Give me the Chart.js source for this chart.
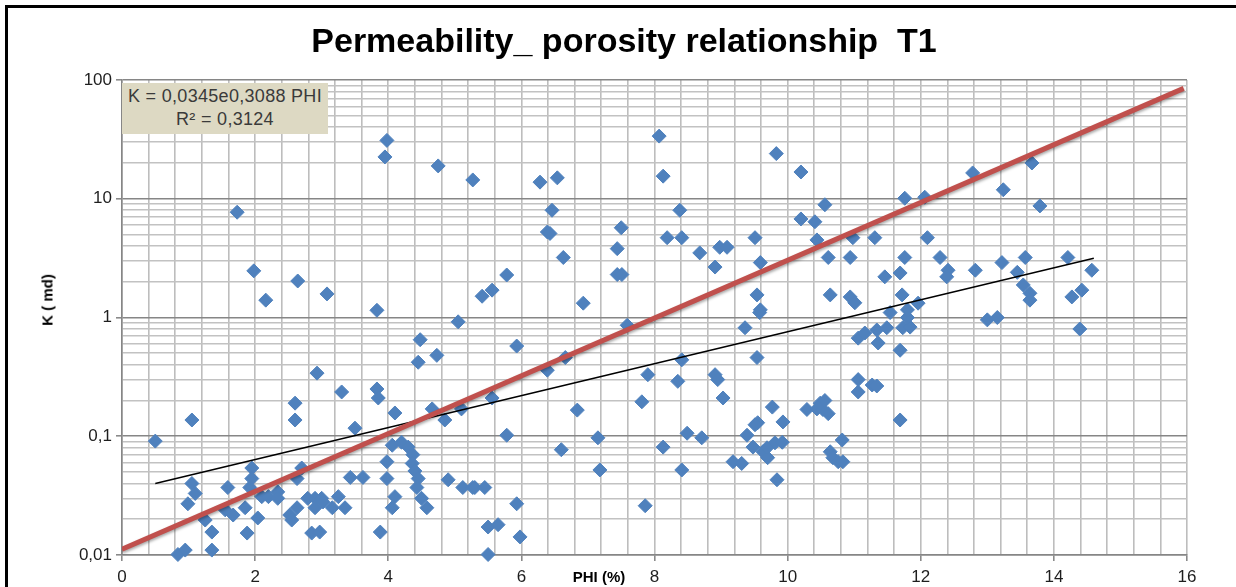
<!DOCTYPE html>
<html>
<head>
<meta charset="utf-8">
<title>Permeability porosity T1</title>
<script src="https://cdn.jsdelivr.net/npm/chart.js@4.4.0/dist/chart.umd.min.js"></script>
<style>
	html, body { margin: 0; padding: 0; background: #fff; overflow: hidden; }
	#wrap { position: relative; width: 1236px; height: 587px; overflow: hidden; font-family: "Liberation Sans", Arial, sans-serif; }
	#frame-top { position: absolute; left: 5px; top: 5px; width: 1231px; height: 3px; background: #000; }
	#frame-left { position: absolute; left: 5px; top: 5px; width: 3px; height: 582px; background: #000; }
	#chart-title { position: absolute; left: 6px; top: 23px; width: 1236px; text-align: center; font-weight: bold; font-size: 34px; line-height: 34px; color: #000; white-space: nowrap; }
	#y-title { position: absolute; left: 47px; top: 300px; transform: translate(-50%, -50%) rotate(-90deg); font-weight: bold; font-size: 15px; color: #000; white-space: nowrap; }
	#x-title { position: absolute; left: 599px; top: 576px; transform: translate(-50%, -50%); font-weight: bold; font-size: 15px; color: #000; white-space: nowrap; }
	#equation { position: absolute; left: 122px; top: 83px; width: 206px; height: 51px; background: #ddd9c3; color: #3a3a3a; font-size: 18px; line-height: 23px; text-align: center; padding-top: 2px; box-sizing: border-box; letter-spacing: 0.3px; }
	canvas { position: absolute; left: 0; top: 0; }
</style>
</head>
<body>
<div id="wrap">
	<canvas id="perm-chart" width="1236" height="587"></canvas>
	<div id="frame-top"></div>
	<div id="frame-left"></div>
	<div id="chart-title">Permeability_ porosity relationship&nbsp; T1</div>
	<div id="y-title">K ( md)</div>
	<div id="x-title">PHI (%)</div>
	<div id="equation">K = 0,0345e0,3088 PHI<br>R² = 0,3124</div>
</div>
<script>
	// porosity (%) and permeability (md)
	var phi = [
		0.50, 1.05, 1.05, 1.10, 0.99, 0.84, 0.95, 1.25, 1.35, 1.35,
		1.59, 1.55, 1.67, 1.88, 1.85, 1.95, 1.95, 1.92, 2.04, 2.10,
		2.20, 2.34, 2.34, 2.52, 2.55, 2.63, 2.70, 2.63, 2.60, 2.60,
		2.79, 2.90, 3.00, 2.90, 3.02, 3.16, 3.25, 3.35, 2.85, 2.97,
		2.93, 3.30, 3.50, 3.43, 3.62, 3.83, 3.85, 3.88, 3.98, 3.98,
		4.06, 4.10, 4.06, 4.10, 4.20, 4.30, 4.37, 4.36, 4.40, 4.45,
		4.43, 4.50, 4.58, 4.45, 4.48, 4.73, 4.66, 4.85, 4.90, 5.12,
		5.27, 5.05, 5.10, 3.83, 1.73, 1.98, 2.16, 2.64, 3.08, 3.98,
		3.95, 4.75,
		5.30, 5.45, 5.50, 5.65, 5.50, 5.93, 5.98, 5.93, 5.78, 5.56,
		6.39, 6.66, 6.84, 6.60, 7.15, 7.18, 7.59, 7.81, 7.90, 7.86,
		8.13, 8.35, 8.41, 8.49, 8.41, 8.71, 8.91, 8.95, 9.03, 9.18,
		9.31, 9.39, 9.48, 9.55, 9.51, 9.77, 9.93, 9.84, 9.63, 9.70,
		9.69, 9.81, 9.92, 9.36, 9.54, 9.58, 10.29, 10.44, 10.53, 10.61,
		10.49, 10.64, 10.68, 10.56,
		10.82, 10.76, 10.83, 11.06, 11.06, 11.27, 11.34, 11.69, 11.06, 11.16,
		11.34, 11.49, 11.36, 11.69, 11.73, 11.84, 13.00, 13.15, 14.39, 11.54,
		11.80,
		10.56, 11.76, 12.06, 12.78, 13.24, 13.67, 13.79, 10.98, 11.31, 10.61,
		10.94, 11.76, 12.10, 12.29, 12.41, 12.39, 11.46, 11.69, 12.82, 13.22,
		13.57, 13.45, 13.54, 13.64, 13.64, 14.21, 14.57, 14.27, 14.42, 10.64,
		10.94, 11.01, 11.72, 11.80, 11.96,
		5.27, 6.28, 6.54, 8.07, 8.13, 9.83, 10.20, 6.46, 6.39, 6.43,
		6.63, 5.78, 5.41, 5.56, 6.93, 7.50, 7.44, 7.44, 7.51, 8.38,
		8.19, 8.41, 8.68, 8.91, 8.98, 9.09, 9.51, 9.59, 9.54, 9.59,
		10.20, 10.41, 10.44
	];
	var kmd = [
		0.091, 0.137, 0.040, 0.033, 0.027, 0.0101, 0.011, 0.0197, 0.0156, 0.011,
		0.037, 0.024, 0.0217, 0.0153, 0.025, 0.054, 0.044, 0.037, 0.0205, 0.031,
		0.031, 0.034, 0.030, 0.0217, 0.0197, 0.025, 0.054, 0.044, 0.19, 0.137,
		0.030, 0.030, 0.030, 0.025, 0.028, 0.025, 0.031, 0.025, 0.0153, 0.0156,
		0.34, 0.236, 0.117, 0.045, 0.045, 0.25, 0.21, 0.0156, 0.061, 0.044,
		0.084, 0.031, 0.025, 0.157, 0.089, 0.081, 0.070, 0.059, 0.051, 0.044,
		0.037, 0.030, 0.025, 0.42, 0.65, 0.48, 0.17, 0.137, 0.043, 0.037,
		0.037, 0.92, 0.17, 1.15, 7.7, 2.47, 1.4, 2.03, 1.58, 31,
		22.5, 18.9,
		0.037, 0.037, 0.0172, 0.018, 0.0101, 0.027, 0.0142, 0.575, 0.102, 0.21,
		0.36, 0.46, 0.166, 0.077, 0.097, 0.052, 0.86, 0.195, 0.33, 0.026,
		0.081, 0.29, 0.44, 0.106, 0.052, 0.097, 0.33, 0.30, 0.21, 0.061,
		0.059, 0.102, 0.081, 0.13, 0.125, 0.176, 0.132, 0.043, 0.074, 0.066,
		0.080, 0.088, 0.089, 0.82, 0.46, 1.1, 0.168, 0.17, 0.168, 0.155,
		0.19, 0.074, 0.066, 0.20,
		0.093, 0.061, 0.061, 0.30, 0.236, 0.27, 0.265, 0.137, 0.67, 0.74,
		0.785, 0.82, 0.61, 0.53, 0.82, 0.83, 0.955, 1.0, 0.8, 1.1,
		1.0,
		8.9, 10.1, 10.3, 16.5, 11.9, 20, 8.7, 4.7, 4.7, 3.2,
		3.2, 3.2, 4.7, 3.2, 2.5, 2.2, 2.2, 2.37, 2.5, 2.9,
		3.2, 2.4, 1.88, 1.6, 1.4, 3.2, 2.5, 1.49, 1.7, 1.55,
		1.49, 1.33, 1.55, 1.16, 1.32,
		14.4, 13.8, 15, 33.7, 15.5, 24, 16.8, 8.0, 5.25, 5.1,
		3.2, 2.28, 1.51, 1.7, 1.32, 5.7, 3.8, 2.3, 2.3, 8.0,
		4.7, 4.7, 3.5, 2.66, 3.9, 3.9, 4.7, 2.9, 1.55, 1.16,
		6.76, 6.4, 4.5
	];

	// exponential trendline (black) and the red reference line, end points
	var trendPhi = [0.5, 14.6];
	var trendK = [0.04, 3.15];
	var redPhi = [0, 15.95];
	var redK = [0.0112, 85];

	// axis ticks
	var phiTicks = [0, 2, 4, 6, 8, 10, 12, 14, 16];
	var kTicks = [0.01, 0.1, 1, 10, 100];
	var kTickLabels = ['0,01', '0,1', '1', '10', '100'];

	function toPoints(xs, ys){
		return xs.map(function(x, i){ return { x: x, y: ys[i] }; });
	}

	function isNear(v, list){
		for (var i = 0; i < list.length; i++) {
			if (Math.abs(v - list[i]) < 1e-6 * Math.max(1, list[i])) return i;
		}
		return -1;
	}

	// minor grid: every 0.4 on PHI, 1..9 per decade on K
	var phiGrid = [];
	for (var i = 0; i <= 40; i++) {
		phiGrid.push(Number((i * 0.4).toFixed(1)));
	}
	var kGrid = [];
	for (var d = 0; d < kTicks.length - 1; d++) {
		for (var m = 1; m <= 9; m++) {
			kGrid.push(Number((m * kTicks[d]).toPrecision(3)));
		}
	}
	kGrid.push(kTicks[kTicks.length - 1]);

	var lineShadow = {
		id: 'lineShadow',
		beforeDatasetDraw: function(chart, args){
			if (args.index === 0) {
				var c = chart.ctx;
				c.save();
				c.shadowColor = 'rgba(0,0,0,0.35)';
				c.shadowBlur = 3;
				c.shadowOffsetY = 2;
			}
		},
		afterDatasetDraw: function(chart, args){
			if (args.index === 0) chart.ctx.restore();
		}
	};

	var tickFont = { family: '"Liberation Sans", Arial, sans-serif', size: 17 };

	var permChart = new Chart(document.getElementById('perm-chart'), {
		type: 'scatter',
		data: {
			datasets: [
				{
					label: 'red',
					data: toPoints(redPhi, redK),
					showLine: true,
					borderColor: '#c0504d',
					borderWidth: 5,
					pointRadius: 0,
					order: 0
				},
				{
					label: 'trend',
					data: toPoints(trendPhi, trendK),
					showLine: true,
					borderColor: '#000000',
					borderWidth: 1.5,
					pointRadius: 0,
					order: 1
				},
				{
					label: 'T1',
					data: toPoints(phi, kmd),
					pointStyle: 'rectRot',
					pointRadius: 7,
					backgroundColor: '#4f81bd',
					borderColor: '#4f81bd',
					borderWidth: 1,
					clip: false,
					order: 2
				}
			]
		},
		options: {
			responsive: false,
			animation: false,
			devicePixelRatio: 1,
			layout: { padding: { top: 80, right: 49, left: 0, bottom: 0 } },
			plugins: {
				legend: { display: false },
				tooltip: { enabled: false },
				title: { display: false }
			},
			scales: {
				x: {
					type: 'linear',
					min: 0,
					max: 16,
					afterBuildTicks: function(s){
						s.ticks = phiGrid.map(function(v){ return { value: v }; });
					},
					afterFit: function(s){ s.height = 32; },
					ticks: {
						autoSkip: false,
						maxRotation: 0,
						minRotation: 0,
						padding: 6,
						color: '#1e1e1e',
						font: tickFont,
						callback: function(v){
							return isNear(v, phiTicks) >= 0 ? String(phiTicks[isNear(v, phiTicks)]) : '';
						}
					},
					grid: {
						color: '#bdbdbd',
						lineWidth: 1.6,
						tickLength: 6,
						tickColor: function(ctx){
							return ctx.tick && isNear(ctx.tick.value, phiTicks) >= 0 ? '#8a8a8a' : 'rgba(0,0,0,0)';
						}
					},
					border: { color: '#868686', width: 1.6 }
				},
				y: {
					type: 'logarithmic',
					min: 0.01,
					max: 100,
					afterBuildTicks: function(s){
						s.ticks = kGrid.map(function(v){ return { value: v }; });
					},
					afterFit: function(s){ s.width = 122; },
					ticks: {
						autoSkip: false,
						padding: 4,
						color: '#1e1e1e',
						font: tickFont,
						callback: function(v){
							var idx = isNear(v, kTicks);
							return idx >= 0 ? kTickLabels[idx] : '';
						}
					},
					grid: {
						lineWidth: 1.6,
						tickLength: 6,
						color: function(ctx){
							return ctx.tick && isNear(ctx.tick.value, kTicks) >= 0 ? '#868686' : '#c2c2c2';
						},
						tickColor: function(ctx){
							return ctx.tick && isNear(ctx.tick.value, kTicks) >= 0 ? '#8a8a8a' : 'rgba(0,0,0,0)';
						}
					},
					border: { color: '#868686', width: 1.6 }
				}
			}
		},
		plugins: [lineShadow]
	});

	console.log('points', phi.length, kmd.length);
</script>
</body>
</html>
